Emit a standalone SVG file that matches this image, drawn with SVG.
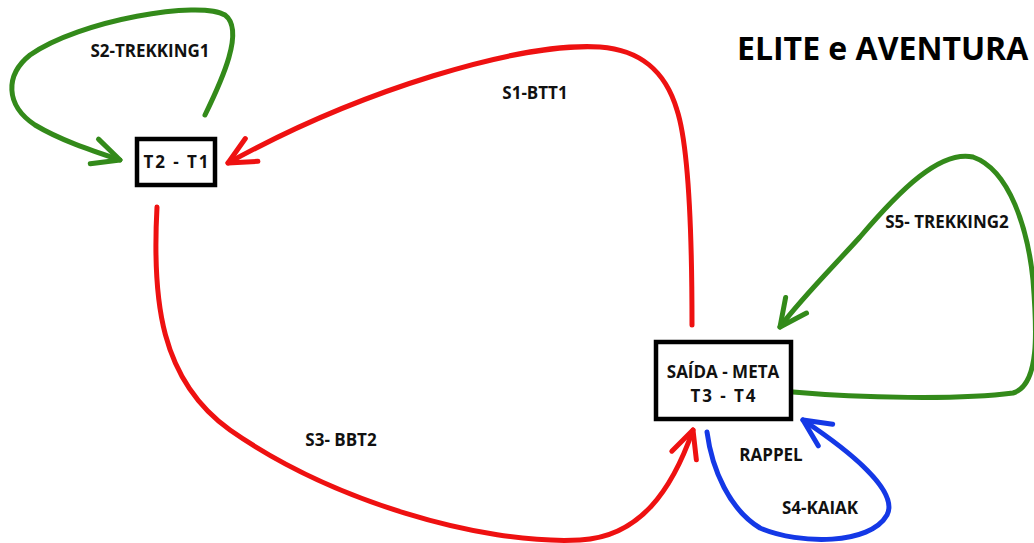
<svg xmlns="http://www.w3.org/2000/svg" width="1034" height="543" viewBox="0 0 1034 543">
<style>
.box{fill:#fff;stroke:#000;stroke-width:4.5}
.lbl{font-family:"Open Sans","Liberation Sans",sans-serif;font-weight:700;font-size:17px;fill:#111;text-anchor:middle}
.ttl{font-family:"Open Sans","Liberation Sans",sans-serif;font-weight:700;font-size:32px;fill:#000}
.g{fill:none;stroke:#338a1a;stroke-width:5;stroke-linecap:round}
.r{fill:none;stroke:#ee1111;stroke-width:5;stroke-linecap:round}
.b{fill:none;stroke:#1438e6;stroke-width:5;stroke-linecap:round}
</style>
<defs>
<marker id="ag" markerUnits="userSpaceOnUse" viewBox="-32 -18 36 36" refX="0" refY="0" markerWidth="36" markerHeight="36" orient="auto" overflow="visible"><path d="M-27,-13 L0,0 L-27,13" fill="none" stroke="#338a1a" stroke-width="5" stroke-linecap="round" stroke-linejoin="round"/></marker>
<marker id="ar" markerUnits="userSpaceOnUse" viewBox="-32 -18 36 36" refX="0" refY="0" markerWidth="36" markerHeight="36" orient="auto" overflow="visible"><path d="M-27,-13 L0,0 L-27,13" fill="none" stroke="#ee1111" stroke-width="5" stroke-linecap="round" stroke-linejoin="round"/></marker>
<marker id="ab" markerUnits="userSpaceOnUse" viewBox="-32 -18 36 36" refX="0" refY="0" markerWidth="36" markerHeight="36" orient="auto" overflow="visible"><path d="M-27,-13 L0,0 L-27,13" fill="none" stroke="#1438e6" stroke-width="5" stroke-linecap="round" stroke-linejoin="round"/></marker>
</defs>
<rect width="1034" height="543" fill="#fff"/>
<text class="ttl" x="737" y="60">ELITE e AVENTURA</text>
<g id="connectors">
<path id="s2" class="g" marker-end="url(#ag)" d="M205,115 C222,80 245,30 225,15 C200,0 80,20 30,55 C5,75 5,105 35,125 C60,140 90,150 120,160"/>
<path id="s1" class="r" marker-end="url(#ar)" d="M692,325 C692,250 690,150 677,110 C665,70 640,50 600,47 C520,42 360,90 228,163"/>
<path id="s3" class="r" marker-end="url(#ar)" d="M157,207 C152,300 160,380 230,430 C330,500 480,545 580,540 C640,537 672,490 693,430"/>
<path id="s4" class="b" marker-end="url(#ab)" d="M707,432 C712,470 730,510 760,528 C800,545 870,545 887,515 C900,490 845,448 803,420"/>
<path id="s5" class="g" marker-end="url(#ag)" d="M793,392 C860,398 960,400 1013,393 C1040,385 1037,330 1033,280 C1028,230 1010,170 973,157 C940,150 900,190 860,237 C830,270 800,300 780,327"/>
<text class="lbl" x="150" y="57">S2-TREKKING1</text>
<text class="lbl" x="535" y="99">S1-BTT1</text>
<text class="lbl" x="341" y="446">S3- BBT2</text>
<text class="lbl" x="947" y="228">S5- TREKKING2</text>
<text class="lbl" x="771" y="461">RAPPEL</text>
<text class="lbl" x="820" y="514">S4-KAIAK</text>
</g>
<g id="n-t2t1">
<rect class="box" x="137" y="139" width="78" height="46"/>
<text class="lbl" x="176" y="168" textLength="65">T2 - T1</text>
</g>
<g id="n-saida">
<rect class="box" x="656" y="342" width="135" height="77"/>
<text class="lbl" x="723" y="378">SAÍDA - META</text>
<text class="lbl" x="723" y="402" textLength="65">T3 - T4</text>
</g>
</svg>
